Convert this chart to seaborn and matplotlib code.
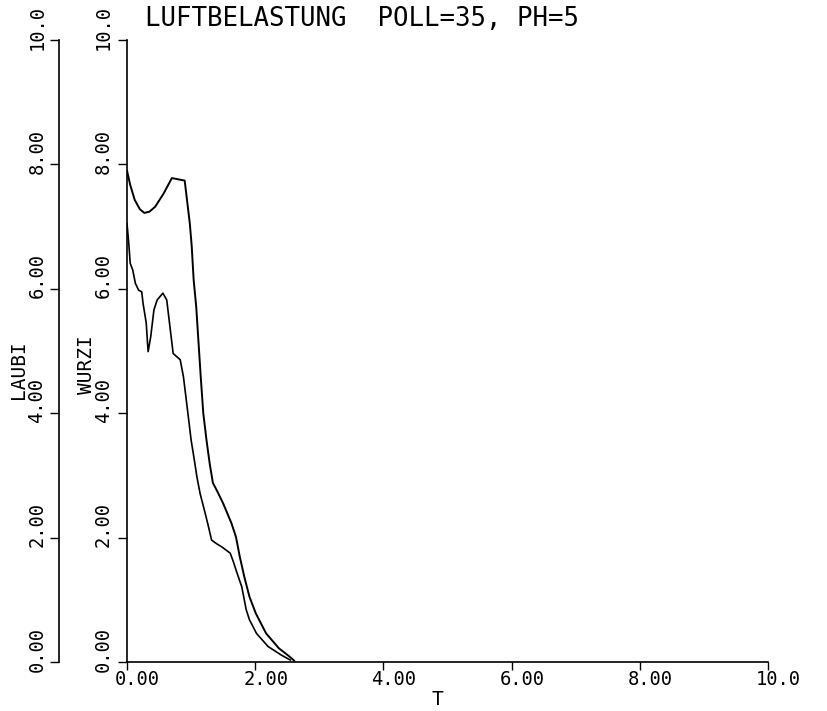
import matplotlib
matplotlib.use("Agg")
import matplotlib.pyplot as plt
import matplotlib.transforms as mtransforms
import numpy as np
import pandas as pd
import seaborn as sns

# Simulation output: time T against the two state variables
t_wurzi = [0.0, 0.05, 0.12, 0.20, 0.27, 0.35, 0.44, 0.57, 0.70, 0.80, 0.90, 0.93,
           0.98, 1.01, 1.04, 1.08, 1.11, 1.15, 1.19, 1.24, 1.29, 1.34, 1.42, 1.50,
           1.63, 1.70, 1.76, 1.83, 1.91, 2.01, 2.17, 2.37, 2.52, 2.61]
v_wurzi = [7.90, 7.67, 7.43, 7.28, 7.22, 7.24, 7.32, 7.53, 7.78, 7.76, 7.74, 7.48,
           7.05, 6.68, 6.14, 5.71, 5.23, 4.59, 4.00, 3.57, 3.19, 2.88, 2.72, 2.55,
           2.23, 2.01, 1.69, 1.37, 1.05, 0.78, 0.46, 0.22, 0.10, 0.02]

t_laubi = [0.0, 0.03, 0.05, 0.09, 0.13, 0.18, 0.23, 0.25, 0.30, 0.32, 0.33, 0.37,
           0.42, 0.47, 0.56, 0.62, 0.67, 0.72, 0.83, 0.88, 0.95, 1.00, 1.05, 1.09,
           1.14, 1.22, 1.27, 1.32, 1.40, 1.48, 1.61, 1.66, 1.71, 1.79, 1.86, 1.91,
           2.02, 2.20, 2.41, 2.55]
v_laubi = [7.05, 6.70, 6.41, 6.30, 6.09, 5.98, 5.95, 5.77, 5.45, 5.13, 4.99, 5.23,
           5.66, 5.82, 5.93, 5.82, 5.39, 4.96, 4.86, 4.59, 4.00, 3.57, 3.25, 2.98,
           2.71, 2.39, 2.18, 1.96, 1.90, 1.85, 1.75, 1.61, 1.45, 1.21, 0.84, 0.68,
           0.46, 0.25, 0.11, 0.03]

tick_values = [0, 2, 4, 6, 8, 10]
tick_labels = ["0.00", "2.00", "4.00", "6.00", "8.00", "10.0"]
title_text = "LUFTBELASTUNG  POLL=35, PH=5"

df_w = pd.DataFrame({"T": t_wurzi, "WURZI": v_wurzi})
df_l = pd.DataFrame({"T": t_laubi, "LAUBI": v_laubi})

sns.set_style("ticks", {"text.color": "black", "axes.edgecolor": "black",
                        "xtick.color": "black", "ytick.color": "black",
                        "axes.labelcolor": "black"})
plt.rcParams["font.family"] = ["DejaVu Sans Mono", "DejaVu Sans"]

W, H, DPI = 827, 711, 100
fig = plt.figure(figsize=(W / DPI, H / DPI), dpi=DPI)
fig.patch.set_facecolor("white")

x0, x1, y0, y1 = 127, 768, 662, 40
ax = fig.add_axes([x0 / W, 1 - y0 / H, (x1 - x0) / W, (y0 - y1) / H])
ax.patch.set_alpha(0)

sns.lineplot(data=df_w, x="T", y="WURZI", ax=ax, color="black", lw=1.4,
             estimator=None, sort=False)

ax2 = ax.twinx()
sns.lineplot(data=df_l, x="T", y="LAUBI", ax=ax2, color="black", lw=1.2,
             estimator=None, sort=False)

for a in (ax, ax2):
    a.set_xlim(0, 10)
    a.set_ylim(0, 10)
    a.set_xlabel("")
    a.set_ylabel("")
    for s in ("top", "right"):
        a.spines[s].set_visible(False)

ax2.yaxis.tick_left()
ax2.spines["left"].set_visible(True)
ax2.spines["left"].set_position(("outward", 49))
ax2.spines["bottom"].set_visible(False)

lw_axis = 1.2
for a in (ax, ax2):
    a.spines["left"].set_linewidth(lw_axis)
    a.spines["left"].set_color("black")
ax.spines["bottom"].set_linewidth(lw_axis)
ax.spines["bottom"].set_color("black")

tick_font = dict(family="DejaVu Sans Mono", size=13.5, color="black")

ax.set_xticks(tick_values)
ax.set_xticklabels(tick_labels, **tick_font)
ax.tick_params(axis="x", direction="out", length=5.5, width=1.0, pad=0.5,
               color="black")
for lab in ax.get_xticklabels():
    lab.set_ha("left")
    lab.set_transform(lab.get_transform() +
                      mtransforms.ScaledTranslation(-12 / DPI, 0, fig.dpi_scale_trans))

for a, pad in ((ax, 3.5), (ax2, 2.5)):
    a.set_yticks(tick_values)
    a.set_yticklabels(tick_labels, rotation=90, **tick_font)
    a.tick_params(axis="y", direction="out", length=6.5, width=1.0, pad=pad,
                  color="black")
    for lab in a.get_yticklabels():
        lab.set_va("center")
        lab.set_transform(lab.get_transform() +
                          mtransforms.ScaledTranslation(0, 13 / DPI, fig.dpi_scale_trans))

fig.text(145 / W, 1 - 6 / H, title_text, ha="left", va="top",
         family="DejaVu Sans Mono", size=18.5, color="black")
fig.text(437 / W, 2 / H, "T", ha="center", va="bottom",
         family="DejaVu Sans Mono", size=14, color="black")
fig.text(19 / W, 1 - 370 / H, "LAUBI", ha="center", va="center", rotation=90,
         family="DejaVu Sans Mono", size=14, color="black")
fig.text(87 / W, 1 - 365 / H, "WURZI", ha="center", va="center", rotation=90,
         family="DejaVu Sans Mono", size=14, color="black")

fig.savefig("out.png", dpi=DPI, facecolor="white")
